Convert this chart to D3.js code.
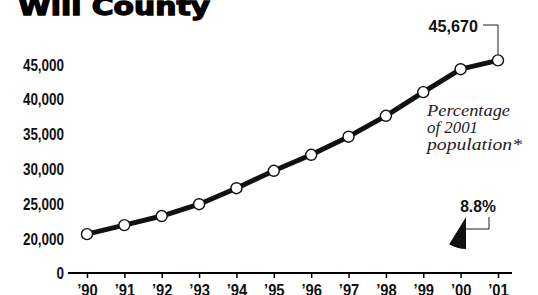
<!DOCTYPE html>
<html><head><meta charset="utf-8">
<script src="https://cdn.jsdelivr.net/npm/d3@7"></script>
<style>
html,body{margin:0;padding:0;background:#fff;}
svg{display:block;}
.cond{font-family:"Liberation Sans","Arial",sans-serif;font-weight:bold;}
</style></head>
<body>
<script>
const title = "Will County";
const years = [1990,1991,1992,1993,1994,1995,1996,1997,1998,1999,2000,2001];
const population = [20700,22000,23300,25000,27300,29800,32100,34700,37700,41100,44400,45670];
const yTicks = [0,20000,25000,30000,35000,40000,45000];
const lastLabel = "45,670";
const noteLines = ["Percentage","of 2001","population*"];
const share = 0.088;
const shareLabel = "8.8%";

const W = 538, H = 295;
const svg = d3.select("body").append("svg").attr("width", W).attr("height", H);

const x = d3.scaleLinear().domain([1990, 2001]).range([87, 498]);
// broken axis: 0 shown below the 20,000 baseline
const y = d3.scaleLinear().domain([0, 20000, 45000]).range([273, 239, 65]);

function condense(sel, f) {
  sel.each(function() {
    const L = this.getComputedTextLength();
    d3.select(this).attr("textLength", L * f).attr("lengthAdjust", "spacingAndGlyphs");
  });
}

// Title
svg.append("text").attr("x", 18).attr("y", 15)
  .attr("font-family", "DejaVu Sans, sans-serif").attr("font-weight", 900)
  .attr("font-size", 24).attr("textLength", 192).attr("lengthAdjust", "spacingAndGlyphs")
  .attr("stroke", "#000").attr("stroke-width", 1.3)
  .text(title);

// X axis
const xAxis = d3.axisBottom(x).tickValues(years).tickSize(5).tickPadding(3)
  .tickFormat(d => "\u2019" + String(d % 100).padStart(2, "0"));
const gx = svg.append("g").attr("transform", "translate(0,273)").call(xAxis);
gx.select(".domain").remove();
gx.append("line").attr("x1", 68).attr("x2", 512).attr("y1", 0).attr("y2", 0)
  .attr("stroke", "#000").attr("stroke-width", 2);
gx.selectAll(".tick line").attr("stroke", "#000").attr("stroke-width", 1.5);
gx.selectAll(".tick text").attr("class", "cond").attr("font-size", 16).attr("fill", "#111")
  .attr("dy", "0.95em").call(condense, 0.92);

// Y axis labels
const yAxis = d3.axisLeft(y).tickValues(yTicks).tickSize(0).tickPadding(4)
  .tickFormat(d3.format(","));
const gy = svg.append("g").attr("transform", "translate(68,0)").call(yAxis);
gy.select(".domain").remove();
gy.selectAll(".tick text").attr("class", "cond").attr("font-size", 16).attr("fill", "#111")
  .call(condense, 0.84);

// Line
const line = d3.line().x((d, i) => x(years[i])).y(d => y(d));
svg.append("path").datum(population).attr("d", line)
  .attr("fill", "none").attr("stroke", "#111").attr("stroke-width", 5)
  .attr("stroke-linejoin", "round").attr("stroke-linecap", "round");

svg.selectAll("circle.pt").data(population).join("circle").attr("class", "pt")
  .attr("cx", (d, i) => x(years[i])).attr("cy", d => y(d)).attr("r", 5.5)
  .attr("fill", "#fff").attr("stroke", "#111").attr("stroke-width", 1.4);

// Callout for last value
const lx = x(years[years.length - 1]), ly = y(population[population.length - 1]);
svg.append("path").attr("d", `M${lx - 15},25 H${lx} V${ly - 6}`)
  .attr("fill", "none").attr("stroke", "#222").attr("stroke-width", 1);
svg.append("text").attr("class", "cond").attr("x", lx - 20).attr("y", 32)
  .attr("text-anchor", "end").attr("font-size", 17).attr("fill", "#111").text(lastLabel)
  .call(condense, 0.95);

// Note text
const noteWidths = [83, 51, 95];
svg.append("g").selectAll("text").data(noteLines).join("text")
  .attr("x", 427).attr("y", (d, i) => 116 + i * 17)
  .attr("font-family", "Liberation Serif, DejaVu Serif, serif").attr("font-style", "italic")
  .attr("font-size", 16).attr("fill", "#222")
  .attr("textLength", (d, i) => noteWidths[i]).attr("lengthAdjust", "spacingAndGlyphs")
  .text(d => d);

// Pie wedge
const cx = 466, cy = 217;
const arc = d3.arc().innerRadius(0).outerRadius(32);
svg.append("path").attr("transform", `translate(${cx},${cy})`)
  .attr("d", arc({startAngle: Math.PI, endAngle: Math.PI + Math.PI * 2 * share}))
  .attr("fill", "#111");
svg.append("path").attr("d", `M${cx},229 H489 V217`)
  .attr("fill", "none").attr("stroke", "#222").attr("stroke-width", 1);
svg.append("text").attr("class", "cond").attr("x", 478).attr("y", 212)
  .attr("text-anchor", "middle").attr("font-size", 17).attr("fill", "#111").text(shareLabel)
  .call(condense, 0.92);
</script>
</body></html>
